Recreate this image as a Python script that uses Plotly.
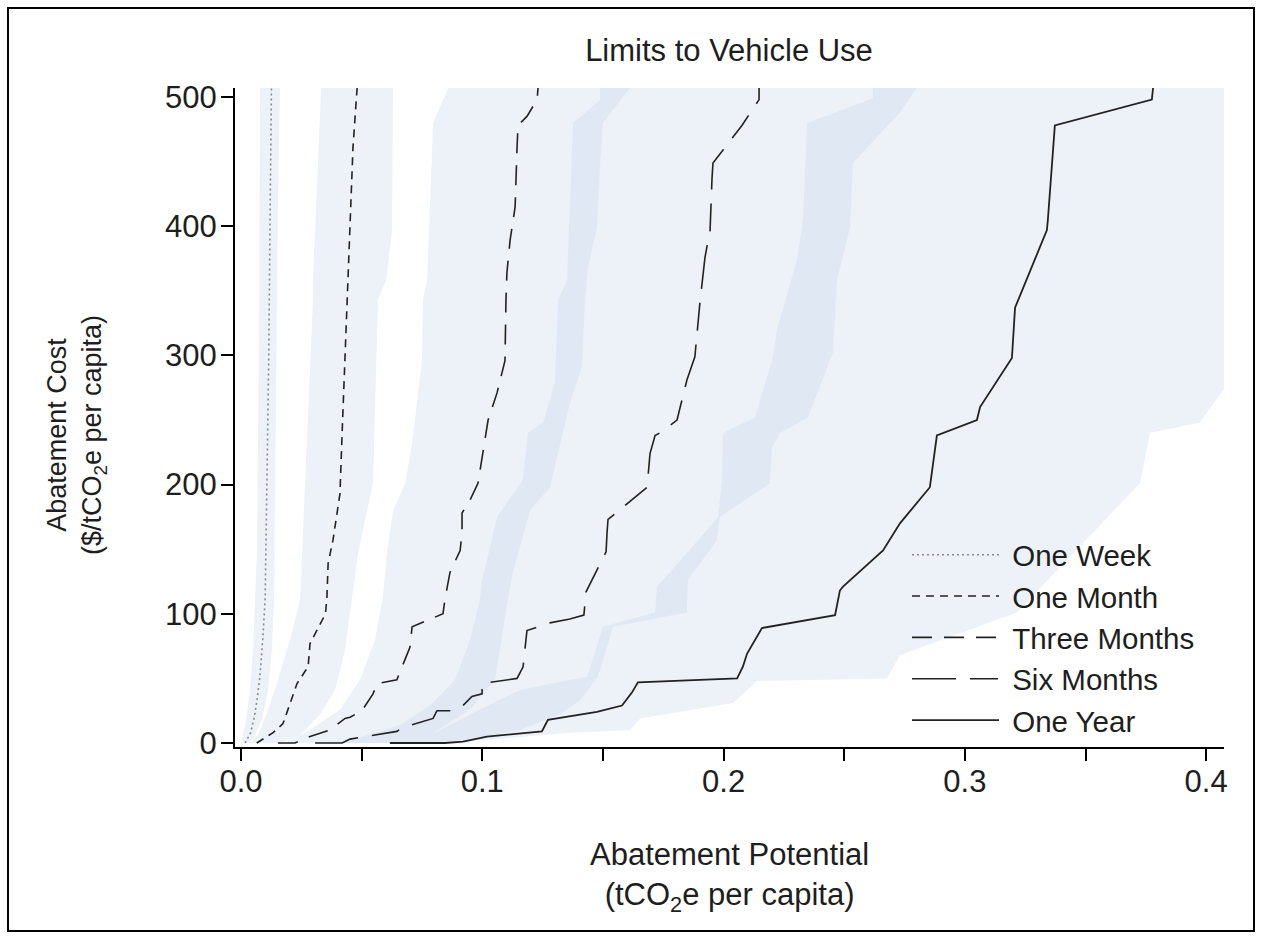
import plotly.graph_objects as go

# ---------------- data ----------------
series_names = ["One Week", "One Month", "Three Months", "Six Months", "One Year"]

# central curves: abatement potential (x) vs abatement cost (y)
one_week_x = [0.0017, 0.0040, 0.0055, 0.0066, 0.0078, 0.0090, 0.0100, 0.0108, 0.0115, 0.0120, 0.0126]
one_week_y = [0, 8, 20, 33, 51, 80, 112, 200, 300, 400, 507]

one_month_x = [0.0065, 0.0133, 0.0174, 0.0232, 0.0278, 0.0286, 0.0350, 0.0356, 0.0361, 0.0381, 0.0398,
               0.0410, 0.0419, 0.0439, 0.0443, 0.0464, 0.0481]
one_month_y = [0, 8, 15, 46, 59, 77, 100, 113, 139, 157, 178, 193, 240, 343, 360, 461, 507]

three_months_x = [0.0153, 0.0224, 0.0236, 0.0286, 0.0369, 0.0431, 0.0452, 0.0501, 0.0547, 0.0564, 0.0646,
                  0.0659, 0.0671, 0.0700, 0.0709, 0.0763, 0.0837, 0.0845, 0.0866, 0.0908, 0.0916, 0.0916,
                  0.0949, 0.0982, 0.1003, 0.1024, 0.1061, 0.1094, 0.1098, 0.1102, 0.1115, 0.1136, 0.1144,
                  0.1148, 0.1185, 0.1227, 0.1231]
three_months_y = [0, 0, 1, 5, 10, 19, 20, 25, 38, 46, 49, 55, 62, 74, 90, 94, 100, 111, 132, 149, 163, 178,
                  188, 201, 224, 250, 271, 296, 343, 364, 389, 415, 461, 478, 485, 498, 507]

six_months_x = [0.0307, 0.0419, 0.0452, 0.0522, 0.0646, 0.0671, 0.0742, 0.0796, 0.0812, 0.0874, 0.0920,
                0.0957, 0.0999, 0.0999, 0.1144, 0.1169, 0.1185, 0.1280, 0.1363, 0.1421, 0.1430, 0.1459,
                0.1513, 0.1517, 0.1521, 0.1683, 0.1687, 0.1695, 0.1716, 0.1745, 0.1807, 0.1848, 0.1881,
                0.1902, 0.1923, 0.1944, 0.1952, 0.1956, 0.2039, 0.2076, 0.2147, 0.2147]
six_months_y = [0, 0, 3, 5, 9, 12, 16, 19, 25, 25, 29, 36, 38, 46, 50, 59, 87, 93, 96, 99, 117, 128, 148,
                163, 173, 198, 207, 224, 238, 241, 250, 281, 299, 341, 376, 397, 437, 449, 469, 478, 498, 507]

one_year_x = [0.0617, 0.0845, 0.0920, 0.1019, 0.1247, 0.1272, 0.1405, 0.1475, 0.1579, 0.1620, 0.1645,
              0.2056, 0.2080, 0.2097, 0.2159, 0.2462, 0.2482, 0.2495, 0.2661, 0.2731, 0.2855, 0.2884,
              0.3050, 0.3063, 0.3195, 0.3208, 0.3340, 0.3344, 0.3373, 0.3775, 0.3780]
one_year_y = [0, 0, 1, 5, 9, 18, 22, 24, 29, 39, 47, 50, 59, 69, 89, 99, 118, 121, 149, 170, 198, 238,
              250, 260, 298, 337, 397, 405, 478, 498, 507]

# uncertainty bands: low edge (bottom -> top) and high edge (top -> bottom)
wk_lo_x = [0.0, 0.0021, 0.0037, 0.0050, 0.0058, 0.0066, 0.0070, 0.0075, 0.0079]
wk_lo_y = [0, 18, 41, 72, 111, 149, 227, 343, 507]
wk_hi_x = [0.0162, 0.0153, 0.0149, 0.0141, 0.0137, 0.0128, 0.0112, 0.0087, 0.0058, 0.0037]
wk_hi_y = [507, 421, 343, 227, 111, 72, 41, 18, 6, 0]

mo_lo_x = [0.0037, 0.0070, 0.0112, 0.0153, 0.0203, 0.0245, 0.0298, 0.0298, 0.0332]
mo_lo_y = [0, 6, 26, 49, 80, 111, 343, 358, 507]
mo_hi_x = [0.0630, 0.0626, 0.0601, 0.0568, 0.0547, 0.0485, 0.0460, 0.0431, 0.0390, 0.0327, 0.0245, 0.0162]
mo_hi_y = [507, 397, 358, 343, 201, 147, 111, 72, 41, 22, 6, 0]

tm_lo_x = [0.0182, 0.0286, 0.0410, 0.0493, 0.0555, 0.0588, 0.0605, 0.0630, 0.0680, 0.0709, 0.0750,
           0.0754, 0.0771, 0.0796, 0.0858]
tm_lo_y = [0, 10, 26, 49, 80, 113, 147, 180, 201, 232, 296, 343, 358, 480, 507]
tm_hi_x = [0.1612, 0.1500, 0.1488, 0.1475, 0.1438, 0.1426, 0.1413, 0.1363, 0.1281, 0.1198, 0.1127,
           0.1106, 0.1073, 0.1053, 0.0949, 0.0783, 0.0659]
tm_hi_y = [507, 480, 446, 399, 368, 343, 291, 263, 198, 180, 132, 111, 72, 49, 26, 6, 0]

sm_lo_x = [0.0327, 0.0452, 0.0659, 0.0783, 0.0887, 0.0949, 0.0990, 0.0999, 0.1061, 0.1169, 0.1189,
           0.1252, 0.1301, 0.1314, 0.1351, 0.1376, 0.1488, 0.1488]
sm_lo_y = [0, 2, 14, 29, 49, 80, 111, 126, 175, 204, 240, 248, 279, 343, 358, 480, 498, 507]
sm_hi_x = [0.2801, 0.2731, 0.2536, 0.2524, 0.2470, 0.2453, 0.2350, 0.2234, 0.2201, 0.2192, 0.1985,
           0.1973, 0.1852, 0.1848, 0.1542, 0.1479, 0.1405, 0.1322, 0.1156, 0.0908, 0.0742]
sm_hi_y = [507, 488, 449, 399, 358, 302, 252, 240, 229, 201, 175, 157, 126, 101, 90, 51, 33, 22, 10, 2, 0]

yr_lo_x = [0.0659, 0.0783, 0.0990, 0.1156, 0.1363, 0.1434, 0.1500, 0.1716, 0.1724, 0.1848, 0.1977,
           0.1993, 0.1997, 0.2130, 0.2205, 0.2221, 0.2304, 0.2329, 0.2346, 0.2619, 0.2619]
yr_lo_y = [0, 6, 26, 41, 49, 51, 90, 101, 121, 147, 175, 204, 240, 252, 299, 320, 374, 405, 480, 499, 507]
yr_hi_x = [0.4100, 0.4100, 0.3986, 0.3974, 0.3767, 0.3726, 0.3216, 0.2731, 0.2677, 0.2138, 0.2039,
           0.1654, 0.1612, 0.1363, 0.0990, 0.0742]
yr_hi_y = [507, 281, 252, 248, 240, 201, 101, 68, 50, 48, 31, 19, 10, 8, 2, 0]

x_tick_vals = [0.0, 0.05, 0.1, 0.15, 0.2, 0.25, 0.3, 0.35, 0.4]
x_tick_text = ["0.0", "", "0.1", "", "0.2", "", "0.3", "", "0.4"]
y_tick_vals = [0, 100, 200, 300, 400, 500]

# ---------------- figure ----------------
FONT = "Liberation Sans, Arial, sans-serif"
TXT = "#1e1e1e"
FS = 31
FS_LEG = 29.5
FS_YT = 27

fig = go.Figure()

bands = [
    (wk_lo_x, wk_lo_y, wk_hi_x, wk_hi_y),
    (mo_lo_x, mo_lo_y, mo_hi_x, mo_hi_y),
    (tm_lo_x, tm_lo_y, tm_hi_x, tm_hi_y),
    (sm_lo_x, sm_lo_y, sm_hi_x, sm_hi_y),
    (yr_lo_x, yr_lo_y, yr_hi_x, yr_hi_y),
]
for lo_x, lo_y, hi_x, hi_y in bands:
    fig.add_trace(go.Scatter(
        x=lo_x + hi_x, y=lo_y + hi_y, mode="lines", fill="toself",
        fillcolor="rgba(195,212,232,0.30)", line=dict(width=0, color="rgba(0,0,0,0)"),
        showlegend=False, hoverinfo="skip"))

curves = [
    (one_week_x, one_week_y, dict(color="#8a8a8a", width=1.6, dash="2px,3px")),
    (one_month_x, one_month_y, dict(color="#222222", width=1.6, dash="8px,6px")),
    (three_months_x, three_months_y, dict(color="#222222", width=1.6, dash="20px,12px")),
    (six_months_x, six_months_y, dict(color="#222222", width=1.6, dash="44px,14px,28px,14px")),
    (one_year_x, one_year_y, dict(color="#222222", width=1.8)),
]
for name, (cx, cy, ln) in zip(series_names, curves):
    fig.add_trace(go.Scatter(x=cx, y=cy, mode="lines", name="\u00a0" + name, line=ln))

# plot area: x 235..1224 px, y 88..747 px
L, R, T, B = 235, 1224, 88, 747
W, H = 1262, 939
pw, ph = R - L, B - T

def px_x(px):
    return (px - L) / pw

def px_y(py):
    return (B - py) / ph

fig.update_layout(
    width=W, height=H,
    margin=dict(l=L, r=W - R, t=T, b=H - B),
    paper_bgcolor="white", plot_bgcolor="white",
    font=dict(family=FONT, size=FS, color=TXT),
    title=dict(text="Limits to Vehicle Use", x=729 / W, xanchor="center",
               y=1 - 50 / H, yanchor="middle", font=dict(size=FS, color=TXT)),
    showlegend=True,
    legend=dict(x=px_x(907), xanchor="left", y=px_y(529), yanchor="top",
                bgcolor="rgba(0,0,0,0)", font=dict(size=FS_LEG, color=TXT),
                itemwidth=87, tracegroupgap=0),
    xaxis=dict(range=[-0.0025, 0.4074], tickvals=x_tick_vals, ticktext=x_tick_text,
               ticks="outside", ticklen=12, tickwidth=2, tickcolor="black",
               showline=True, linewidth=2, linecolor="black", showgrid=False, zeroline=False,
               tickfont=dict(size=FS, color=TXT), ticklabelstandoff=-6),
    yaxis=dict(range=[-3.1, 507], tickvals=y_tick_vals,
               ticks="outside", ticklen=12, tickwidth=2, tickcolor="black",
               showline=True, linewidth=2, linecolor="black", showgrid=False, zeroline=False,
               tickfont=dict(size=FS, color=TXT), ticklabelstandoff=-2),
    shapes=[dict(type="rect", xref="paper", yref="paper",
                 x0=px_x(8), x1=px_x(1254), y0=px_y(931), y1=px_y(8),
                 line=dict(color="black", width=2), fillcolor="rgba(0,0,0,0)", layer="above")],
    annotations=[
        dict(text="Abatement Potential<br>(tCO<sub>2</sub>e per capita)", xref="paper", yref="paper",
             x=px_x(729), y=px_y(877), xanchor="center", yanchor="middle", showarrow=False,
             font=dict(size=FS, color=TXT)),
        dict(text="Abatement Cost<br>($/tCO<sub>2</sub>e per capita)", xref="paper", yref="paper",
             x=px_x(76), y=px_y(435), xanchor="center", yanchor="middle", showarrow=False,
             textangle=-90, font=dict(size=FS_YT, color=TXT)),
    ],
)

fig.write_html("out.html", config={"displayModeBar": False},
               post_script="document.body.style.margin='0';document.body.style.overflow='hidden';")
